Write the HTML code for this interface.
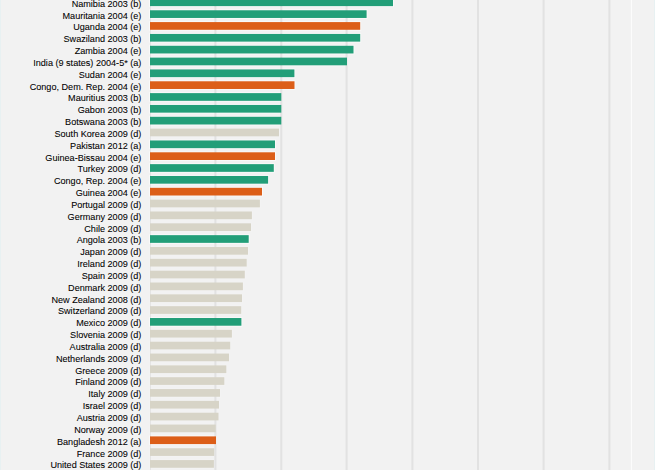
<!DOCTYPE html><html><head><meta charset="utf-8"><style>html,body{margin:0;padding:0;background:#f2f2f2;overflow:hidden}svg{display:block}text{font-family:"Liberation Sans",sans-serif;fill:#000;stroke:#000}</style></head><body>
<svg width="655" height="470" viewBox="0 0 655 470">
<rect x="0" y="0" width="655" height="470" fill="#f2f2f2"/>
<rect x="0" y="0" width="1" height="470" fill="#e8f1f2"/>
<rect x="654" y="0" width="1" height="470" fill="#e8f1f2"/>
<rect x="149.00" y="-2.58" width="245.00" height="9.70" fill="#fff" fill-opacity="0.5"/>
<rect x="149.00" y="9.26" width="218.60" height="9.70" fill="#fff" fill-opacity="0.5"/>
<rect x="149.00" y="21.09" width="212.20" height="9.70" fill="#fff" fill-opacity="0.5"/>
<rect x="149.00" y="32.93" width="212.20" height="9.70" fill="#fff" fill-opacity="0.5"/>
<rect x="149.00" y="44.77" width="205.50" height="9.70" fill="#fff" fill-opacity="0.5"/>
<rect x="149.00" y="56.61" width="199.00" height="9.70" fill="#fff" fill-opacity="0.5"/>
<rect x="149.00" y="68.44" width="146.40" height="9.70" fill="#fff" fill-opacity="0.5"/>
<rect x="149.00" y="80.28" width="146.50" height="9.70" fill="#fff" fill-opacity="0.5"/>
<rect x="149.00" y="92.12" width="133.30" height="9.70" fill="#fff" fill-opacity="0.5"/>
<rect x="149.00" y="103.95" width="133.30" height="9.70" fill="#fff" fill-opacity="0.5"/>
<rect x="149.00" y="115.79" width="133.30" height="9.70" fill="#fff" fill-opacity="0.5"/>
<rect x="149.00" y="127.63" width="131.00" height="9.70" fill="#fff" fill-opacity="0.1"/>
<rect x="149.00" y="139.46" width="127.00" height="9.70" fill="#fff" fill-opacity="0.5"/>
<rect x="149.00" y="151.30" width="127.00" height="9.70" fill="#fff" fill-opacity="0.5"/>
<rect x="149.00" y="163.14" width="125.80" height="9.70" fill="#fff" fill-opacity="0.5"/>
<rect x="149.00" y="174.97" width="120.10" height="9.70" fill="#fff" fill-opacity="0.5"/>
<rect x="149.00" y="186.81" width="114.00" height="9.70" fill="#fff" fill-opacity="0.5"/>
<rect x="149.00" y="198.65" width="111.90" height="9.70" fill="#fff" fill-opacity="0.1"/>
<rect x="149.00" y="210.49" width="103.90" height="9.70" fill="#fff" fill-opacity="0.1"/>
<rect x="149.00" y="222.32" width="103.00" height="9.70" fill="#fff" fill-opacity="0.1"/>
<rect x="149.00" y="234.16" width="100.70" height="9.70" fill="#fff" fill-opacity="0.5"/>
<rect x="149.00" y="246.00" width="100.00" height="9.70" fill="#fff" fill-opacity="0.1"/>
<rect x="149.00" y="257.83" width="98.70" height="9.70" fill="#fff" fill-opacity="0.1"/>
<rect x="149.00" y="269.67" width="96.80" height="9.70" fill="#fff" fill-opacity="0.1"/>
<rect x="149.00" y="281.51" width="94.90" height="9.70" fill="#fff" fill-opacity="0.1"/>
<rect x="149.00" y="293.35" width="94.00" height="9.70" fill="#fff" fill-opacity="0.1"/>
<rect x="149.00" y="305.18" width="93.20" height="9.70" fill="#fff" fill-opacity="0.1"/>
<rect x="149.00" y="317.02" width="93.40" height="9.70" fill="#fff" fill-opacity="0.5"/>
<rect x="149.00" y="328.86" width="83.90" height="9.70" fill="#fff" fill-opacity="0.1"/>
<rect x="149.00" y="340.69" width="82.20" height="9.70" fill="#fff" fill-opacity="0.1"/>
<rect x="149.00" y="352.53" width="81.00" height="9.70" fill="#fff" fill-opacity="0.1"/>
<rect x="149.00" y="364.37" width="78.30" height="9.70" fill="#fff" fill-opacity="0.1"/>
<rect x="149.00" y="376.20" width="76.30" height="9.70" fill="#fff" fill-opacity="0.1"/>
<rect x="149.00" y="388.04" width="72.00" height="9.70" fill="#fff" fill-opacity="0.1"/>
<rect x="149.00" y="399.88" width="71.00" height="9.70" fill="#fff" fill-opacity="0.1"/>
<rect x="149.00" y="411.72" width="70.50" height="9.70" fill="#fff" fill-opacity="0.1"/>
<rect x="149.00" y="423.55" width="67.70" height="9.70" fill="#fff" fill-opacity="0.1"/>
<rect x="149.00" y="435.39" width="68.00" height="9.70" fill="#fff" fill-opacity="0.5"/>
<rect x="149.00" y="447.23" width="66.20" height="9.70" fill="#fff" fill-opacity="0.1"/>
<rect x="149.00" y="459.06" width="65.90" height="9.70" fill="#fff" fill-opacity="0.1"/>
<rect x="214.40" y="0" width="2.00" height="470" fill="#e2e2e2"/>
<rect x="280.30" y="0" width="2.00" height="470" fill="#e2e2e2"/>
<rect x="345.60" y="0" width="2.00" height="470" fill="#e2e2e2"/>
<rect x="411.40" y="0" width="2.00" height="470" fill="#e2e2e2"/>
<rect x="477.00" y="0" width="2.00" height="470" fill="#e2e2e2"/>
<rect x="542.60" y="0" width="2.00" height="470" fill="#e2e2e2"/>
<rect x="608.40" y="0" width="2.00" height="470" fill="#e2e2e2"/>
<rect x="630.90" y="0" width="1" height="470" fill="#fdfdfd"/>
<rect x="150.00" y="0" width="1.00" height="470" fill="#e4e4e4"/>
<rect x="150.00" y="-1.58" width="243.00" height="7.70" fill="#229e78"/>
<rect x="150.00" y="10.26" width="216.60" height="7.70" fill="#229e78"/>
<rect x="150.00" y="22.09" width="210.20" height="7.70" fill="#dc5e18"/>
<rect x="150.00" y="33.93" width="210.20" height="7.70" fill="#229e78"/>
<rect x="150.00" y="45.77" width="203.50" height="7.70" fill="#229e78"/>
<rect x="150.00" y="57.61" width="197.00" height="7.70" fill="#229e78"/>
<rect x="150.00" y="69.44" width="144.40" height="7.70" fill="#229e78"/>
<rect x="150.00" y="81.28" width="144.50" height="7.70" fill="#dc5e18"/>
<rect x="150.00" y="93.12" width="131.30" height="7.70" fill="#229e78"/>
<rect x="150.00" y="104.95" width="131.30" height="7.70" fill="#229e78"/>
<rect x="150.00" y="116.79" width="131.30" height="7.70" fill="#229e78"/>
<rect x="150.00" y="128.63" width="129.00" height="7.70" fill="#d7d4c7"/>
<rect x="150.00" y="140.46" width="125.00" height="7.70" fill="#229e78"/>
<rect x="150.00" y="152.30" width="125.00" height="7.70" fill="#dc5e18"/>
<rect x="150.00" y="164.14" width="123.80" height="7.70" fill="#229e78"/>
<rect x="150.00" y="175.97" width="118.10" height="7.70" fill="#229e78"/>
<rect x="150.00" y="187.81" width="112.00" height="7.70" fill="#dc5e18"/>
<rect x="150.00" y="199.65" width="109.90" height="7.70" fill="#d7d4c7"/>
<rect x="150.00" y="211.49" width="101.90" height="7.70" fill="#d7d4c7"/>
<rect x="150.00" y="223.32" width="101.00" height="7.70" fill="#d7d4c7"/>
<rect x="150.00" y="235.16" width="98.70" height="7.70" fill="#229e78"/>
<rect x="150.00" y="247.00" width="98.00" height="7.70" fill="#d7d4c7"/>
<rect x="150.00" y="258.83" width="96.70" height="7.70" fill="#d7d4c7"/>
<rect x="150.00" y="270.67" width="94.80" height="7.70" fill="#d7d4c7"/>
<rect x="150.00" y="282.51" width="92.90" height="7.70" fill="#d7d4c7"/>
<rect x="150.00" y="294.35" width="92.00" height="7.70" fill="#d7d4c7"/>
<rect x="150.00" y="306.18" width="91.20" height="7.70" fill="#d7d4c7"/>
<rect x="150.00" y="318.02" width="91.40" height="7.70" fill="#229e78"/>
<rect x="150.00" y="329.86" width="81.90" height="7.70" fill="#d7d4c7"/>
<rect x="150.00" y="341.69" width="80.20" height="7.70" fill="#d7d4c7"/>
<rect x="150.00" y="353.53" width="79.00" height="7.70" fill="#d7d4c7"/>
<rect x="150.00" y="365.37" width="76.30" height="7.70" fill="#d7d4c7"/>
<rect x="150.00" y="377.20" width="74.30" height="7.70" fill="#d7d4c7"/>
<rect x="150.00" y="389.04" width="70.00" height="7.70" fill="#d7d4c7"/>
<rect x="150.00" y="400.88" width="69.00" height="7.70" fill="#d7d4c7"/>
<rect x="150.00" y="412.72" width="68.50" height="7.70" fill="#d7d4c7"/>
<rect x="150.00" y="424.55" width="65.70" height="7.70" fill="#d7d4c7"/>
<rect x="150.00" y="436.39" width="66.00" height="7.70" fill="#dc5e18"/>
<rect x="150.00" y="448.23" width="64.20" height="7.70" fill="#d7d4c7"/>
<rect x="150.00" y="460.06" width="63.90" height="7.70" fill="#d7d4c7"/>
<g transform="translate(141.40,0) scale(0.9485,1.0)" style="font-size:9.6px;stroke-width:0.07px">
<text x="0" y="6.72" text-anchor="end">Namibia 2003 (b)</text>
<text x="0" y="18.56" text-anchor="end">Mauritania 2004 (e)</text>
<text x="0" y="30.39" text-anchor="end">Uganda 2004 (e)</text>
<text x="0" y="42.23" text-anchor="end">Swaziland 2003 (b)</text>
<text x="0" y="54.07" text-anchor="end">Zambia 2004 (e)</text>
<text x="0" y="65.91" text-anchor="end">India (9 states) 2004-5* (a)</text>
<text x="0" y="77.74" text-anchor="end">Sudan 2004 (e)</text>
<text x="0" y="89.58" text-anchor="end">Congo, Dem. Rep. 2004 (e)</text>
<text x="0" y="101.42" text-anchor="end">Mauritius 2003 (b)</text>
<text x="0" y="113.25" text-anchor="end">Gabon 2003 (b)</text>
<text x="0" y="125.09" text-anchor="end">Botswana 2003 (b)</text>
<text x="0" y="136.93" text-anchor="end">South Korea 2009 (d)</text>
<text x="0" y="148.76" text-anchor="end">Pakistan 2012 (a)</text>
<text x="0" y="160.60" text-anchor="end">Guinea-Bissau 2004 (e)</text>
<text x="0" y="172.44" text-anchor="end">Turkey 2009 (d)</text>
<text x="0" y="184.28" text-anchor="end">Congo, Rep. 2004 (e)</text>
<text x="0" y="196.11" text-anchor="end">Guinea 2004 (e)</text>
<text x="0" y="207.95" text-anchor="end">Portugal 2009 (d)</text>
<text x="0" y="219.79" text-anchor="end">Germany 2009 (d)</text>
<text x="0" y="231.62" text-anchor="end">Chile 2009 (d)</text>
<text x="0" y="243.46" text-anchor="end">Angola 2003 (b)</text>
<text x="0" y="255.30" text-anchor="end">Japan 2009 (d)</text>
<text x="0" y="267.13" text-anchor="end">Ireland 2009 (d)</text>
<text x="0" y="278.97" text-anchor="end">Spain 2009 (d)</text>
<text x="0" y="290.81" text-anchor="end">Denmark 2009 (d)</text>
<text x="0" y="302.65" text-anchor="end">New Zealand 2008 (d)</text>
<text x="0" y="314.48" text-anchor="end">Switzerland 2009 (d)</text>
<text x="0" y="326.32" text-anchor="end">Mexico 2009 (d)</text>
<text x="0" y="338.16" text-anchor="end">Slovenia 2009 (d)</text>
<text x="0" y="349.99" text-anchor="end">Australia 2009 (d)</text>
<text x="0" y="361.83" text-anchor="end">Netherlands 2009 (d)</text>
<text x="0" y="373.67" text-anchor="end">Greece 2009 (d)</text>
<text x="0" y="385.50" text-anchor="end">Finland 2009 (d)</text>
<text x="0" y="397.34" text-anchor="end">Italy 2009 (d)</text>
<text x="0" y="409.18" text-anchor="end">Israel 2009 (d)</text>
<text x="0" y="421.02" text-anchor="end">Austria 2009 (d)</text>
<text x="0" y="432.85" text-anchor="end">Norway 2009 (d)</text>
<text x="0" y="444.69" text-anchor="end">Bangladesh 2012 (a)</text>
<text x="0" y="456.53" text-anchor="end">France 2009 (d)</text>
<text x="0" y="468.36" text-anchor="end">United States 2009 (d)</text>
</g>
</svg></body></html>
